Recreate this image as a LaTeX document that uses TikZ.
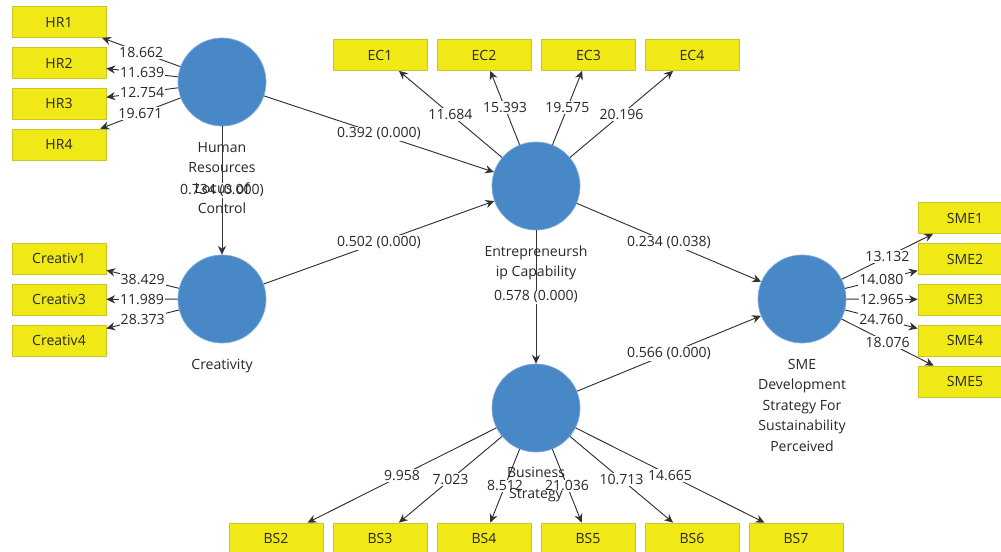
\documentclass[tikz,border=0pt]{standalone}
\usepackage{fontspec}
\setmainfont{Open Sans}
\usetikzlibrary{arrows.meta}
\definecolor{boxfill}{RGB}{240,233,22}
\definecolor{boxline}{RGB}{205,196,40}
\definecolor{lvfill}{RGB}{72,136,199}
\definecolor{lvline}{RGB}{125,172,222}
\definecolor{ink}{RGB}{40,40,40}
\definecolor{wire}{RGB}{50,50,50}
\begin{document}
\begin{tikzpicture}[x=0.03cm,y=-0.03cm,
 lv/.style={circle,fill=lvfill,draw=lvline,line width=0.6pt,minimum size=2.64cm,inner sep=0pt},
 ind/.style={rectangle,fill=boxfill,draw=boxline,line width=0.6pt,minimum width=2.82cm,minimum height=0.93cm,inner sep=0pt,text=ink,font=\fontsize{12}{14}\selectfont},
 lvname/.style={text=ink,align=center,font=\fontsize{12}{17.5}\selectfont,inner sep=0pt,anchor=north},
 wirearrow/.style={draw=wire,line width=0.8pt,-{Stealth[length=7.5pt,width=7pt]}},
 val/.style={fill=white,text=ink,font=\fontsize{12}{14}\selectfont,inner sep=1pt,pos=0.5}
]
\fill[white] (0,0) rectangle (1001,551);
\useasboundingbox (0,0) rectangle (1001,551);
\clip (0,0) rectangle (1001,551);

% latent variables
\node[lv] (hr) at (222,82) {};
\node[lv] (cr) at (222,299) {};
\node[lv] (ec) at (536,186) {};
\node[lv] (sme) at (802,299) {};
\node[lv] (bs) at (536,408) {};

% indicators
\node[ind] (hr1) at (59,22) {HR1};
\node[ind] (hr2) at (59,63) {HR2};
\node[ind] (hr3) at (59,103.5) {HR3};
\node[ind] (hr4) at (59,144.5) {HR4};
\node[ind] (cr1) at (59,258.5) {Creativ1};
\node[ind] (cr3) at (59,299.5) {Creativ3};
\node[ind] (cr4) at (59,340.5) {Creativ4};
\node[ind] (ec1) at (380,55) {EC1};
\node[ind] (ec2) at (484,55) {EC2};
\node[ind] (ec3) at (588.5,55) {EC3};
\node[ind] (ec4) at (692,55) {EC4};
\node[ind] (sme1) at (965,218) {SME1};
\node[ind] (sme2) at (965,259) {SME2};
\node[ind] (sme3) at (965,299.5) {SME3};
\node[ind] (sme4) at (965,340.5) {SME4};
\node[ind] (sme5) at (965,381.5) {SME5};
\node[ind] (bs2) at (276,538.5) {BS2};
\node[ind] (bs3) at (380,538.5) {BS3};
\node[ind] (bs4) at (484,538.5) {BS4};
\node[ind] (bs5) at (588,538.5) {BS5};
\node[ind] (bs6) at (692,538.5) {BS6};
\node[ind] (bs7) at (796,538.5) {BS7};

% outer loadings
\draw[wirearrow] (hr) -- node[val]{18.662} (hr1);
\draw[wirearrow] (hr) -- node[val]{11.639} (hr2);
\draw[wirearrow] (hr) -- node[val]{12.754} (hr3);
\draw[wirearrow] (hr) -- node[val]{19.671} (hr4);
\draw[wirearrow] (cr) -- node[val]{38.429} (cr1);
\draw[wirearrow] (cr) -- node[val]{11.989} (cr3);
\draw[wirearrow] (cr) -- node[val]{28.373} (cr4);
\draw[wirearrow] (ec) -- node[val]{11.684} (ec1);
\draw[wirearrow] (ec) -- node[val]{15.393} (ec2);
\draw[wirearrow] (ec) -- node[val]{19.575} (ec3);
\draw[wirearrow] (ec) -- node[val]{20.196} (ec4);
\draw[wirearrow] (sme) -- node[val]{13.132} (sme1);
\draw[wirearrow] (sme) -- node[val]{14.080} (sme2);
\draw[wirearrow] (sme) -- node[val]{12.965} (sme3);
\draw[wirearrow] (sme) -- node[val]{24.760} (sme4);
\draw[wirearrow] (sme) -- node[val]{18.076} (sme5);
\draw[wirearrow] (bs) -- node[val]{9.958} (bs2);
\draw[wirearrow] (bs) -- node[val]{7.023} (bs3);
\draw[wirearrow] (bs) -- node[val]{8.512} (bs4);
\draw[wirearrow] (bs) -- node[val]{21.036} (bs5);
\draw[wirearrow] (bs) -- node[val]{10.713} (bs6);
\draw[wirearrow] (bs) -- node[val]{14.665} (bs7);

% structural paths
\draw[wirearrow] (hr) -- node[val]{0.392 (0.000)} (ec);
\draw[wirearrow] (cr) -- node[val]{0.502 (0.000)} (ec);
\draw[wirearrow] (hr) -- node[val]{0.734 (0.000)} (cr);
\draw[wirearrow] (ec) -- node[val]{0.234 (0.038)} (sme);
\draw[wirearrow] (ec) -- node[val]{0.578 (0.000)} (bs);
\draw[wirearrow] (bs) -- node[val]{0.566 (0.000)} (sme);

% construct names
\node[lvname] (hrname) at (222,142) {Human\\Resources\\Locus of\\Control};
\node[lvname] (crname) at (222,359) {Creativity};
\node[lvname] (ecname) at (536,245.5) {Entrepreneursh\\ip Capability};
\node[lvname] (smename) at (802,359) {SME\\Development\\Strategy For\\Sustainability\\Perceived};
\node[lvname] (bsname) at (536,467) {Business\\Strategy};
\end{tikzpicture}
\end{document}
